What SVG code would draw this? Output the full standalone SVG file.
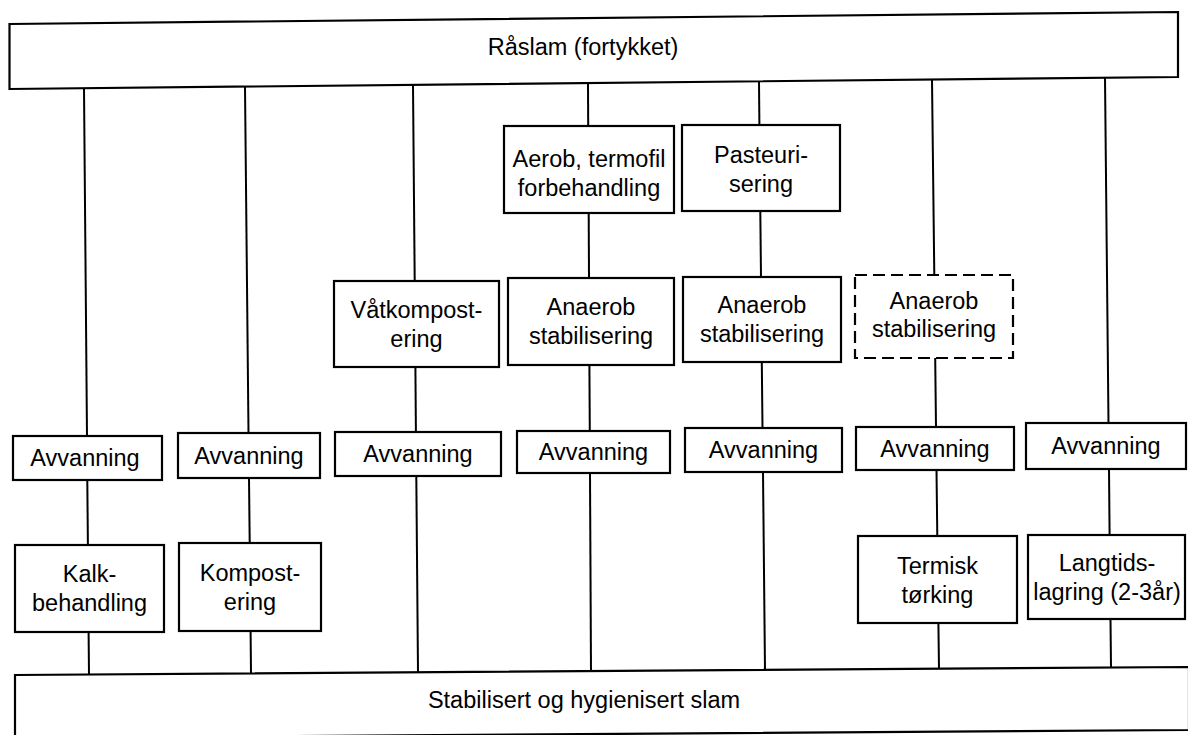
<svg xmlns="http://www.w3.org/2000/svg" width="1188" height="735" viewBox="0 0 1188 735">
<style>
.box{fill:#fff;stroke:#000;stroke-width:2.2}
.dash{stroke-dasharray:12 6}
.conn line{stroke:#000;stroke-width:2}
text{font-family:"Liberation Sans",Arial,Helvetica,sans-serif;font-size:23.5px;text-anchor:middle;fill:#000}
</style>
<rect x="0" y="0" width="1188" height="735" fill="#fff"/>
<g id="connectors" class="conn">
<line x1="84" y1="88.2" x2="87" y2="436"/>
<line x1="87.3" y1="480" x2="87.9" y2="545"/>
<line x1="88.6" y1="632" x2="89" y2="674.5"/>
<line x1="245" y1="86.6" x2="248.5" y2="433"/>
<line x1="249" y1="478" x2="249.7" y2="543"/>
<line x1="250.6" y1="631" x2="251" y2="673.4"/>
<line x1="413" y1="84.9" x2="414.7" y2="281"/>
<line x1="415.4" y1="367" x2="415.9" y2="432"/>
<line x1="416.3" y1="476" x2="418" y2="672.3"/>
<line x1="588" y1="83.1" x2="588.2" y2="126"/>
<line x1="588.7" y1="213" x2="589" y2="278"/>
<line x1="589.4" y1="365" x2="589.8" y2="431"/>
<line x1="590" y1="473" x2="591" y2="671.1"/>
<line x1="759" y1="81.3" x2="759.4" y2="125"/>
<line x1="760.3" y1="211" x2="761" y2="277"/>
<line x1="761.8" y1="362" x2="762.5" y2="428"/>
<line x1="763" y1="472" x2="765" y2="669.9"/>
<line x1="932" y1="79.5" x2="934.3" y2="275"/>
<line x1="935.2" y1="358" x2="936" y2="427"/>
<line x1="936.5" y1="470" x2="937.3" y2="536"/>
<line x1="938.4" y1="623" x2="939" y2="668.7"/>
<line x1="1105" y1="77.8" x2="1108.5" y2="423"/>
<line x1="1109" y1="469" x2="1109.6" y2="535"/>
<line x1="1110.5" y1="619" x2="1111" y2="667.5"/>
</g>
<g id="raslam">
<polygon class="box" points="9.5,24 1178,12 1178,77 9.5,89"/>
<text x="583" y="55">Råslam (fortykket)</text>
</g>
<g id="avvanning1">
<rect class="box" x="13" y="436" width="149" height="44"/>
<text x="85" y="466">Avvanning</text>
</g>
<g id="kalkbehandling">
<rect class="box" x="15" y="545" width="149" height="87"/>
<text x="89.5" y="582">Kalk-</text>
<text x="89.5" y="611">behandling</text>
</g>
<g id="avvanning2">
<rect class="box" x="178" y="433" width="142" height="45"/>
<text x="249" y="463.5">Avvanning</text>
</g>
<g id="kompostering">
<rect class="box" x="179" y="543" width="142" height="88"/>
<text x="250" y="581">Kompost-</text>
<text x="250" y="610">ering</text>
</g>
<g id="vatkompostering">
<rect class="box" x="334" y="281" width="165" height="86"/>
<text x="416.5" y="318">Våtkompost-</text>
<text x="416.5" y="347">ering</text>
</g>
<g id="avvanning3">
<rect class="box" x="335" y="432" width="166" height="44"/>
<text x="418" y="462">Avvanning</text>
</g>
<g id="aerob">
<rect class="box" x="504" y="126" width="170" height="87"/>
<text x="589" y="167">Aerob, termofil</text>
<text x="589" y="196">forbehandling</text>
</g>
<g id="anaerob4">
<rect class="box" x="508" y="278" width="166" height="87"/>
<text x="591" y="315">Anaerob</text>
<text x="591" y="344">stabilisering</text>
</g>
<g id="avvanning4">
<rect class="box" x="517" y="431" width="153" height="42"/>
<text x="593.5" y="460">Avvanning</text>
</g>
<g id="pasteurisering">
<rect class="box" x="682" y="125" width="158" height="86"/>
<text x="761" y="163">Pasteuri-</text>
<text x="761" y="192">sering</text>
</g>
<g id="anaerob5">
<rect class="box" x="683" y="277" width="158" height="85"/>
<text x="762" y="313">Anaerob</text>
<text x="762" y="342">stabilisering</text>
</g>
<g id="avvanning5">
<rect class="box" x="685" y="428" width="157" height="44"/>
<text x="763.5" y="458">Avvanning</text>
</g>
<g id="anaerob6">
<rect class="box dash" x="855" y="275" width="158" height="83"/>
<text x="934" y="309">Anaerob</text>
<text x="934" y="337">stabilisering</text>
</g>
<g id="avvanning6">
<rect class="box" x="856" y="427" width="158" height="43"/>
<text x="935" y="456.5">Avvanning</text>
</g>
<g id="termisk">
<rect class="box" x="858" y="536" width="159" height="87"/>
<text x="937.5" y="574">Termisk</text>
<text x="937.5" y="603">tørking</text>
</g>
<g id="avvanning7">
<rect class="box" x="1026" y="423" width="160" height="46"/>
<text x="1106" y="454">Avvanning</text>
</g>
<g id="langtidslagring">
<rect class="box" x="1028" y="535" width="157" height="84"/>
<text x="1107" y="571">Langtids-</text>
<text x="1107" y="600">lagring (2-3år)</text>
</g>
<g id="stabilisert">
<polygon class="box" points="15,675 1189,667 1189,730 15,738"/>
<text x="584" y="708">Stabilisert og hygienisert slam</text>
</g>
</svg>
